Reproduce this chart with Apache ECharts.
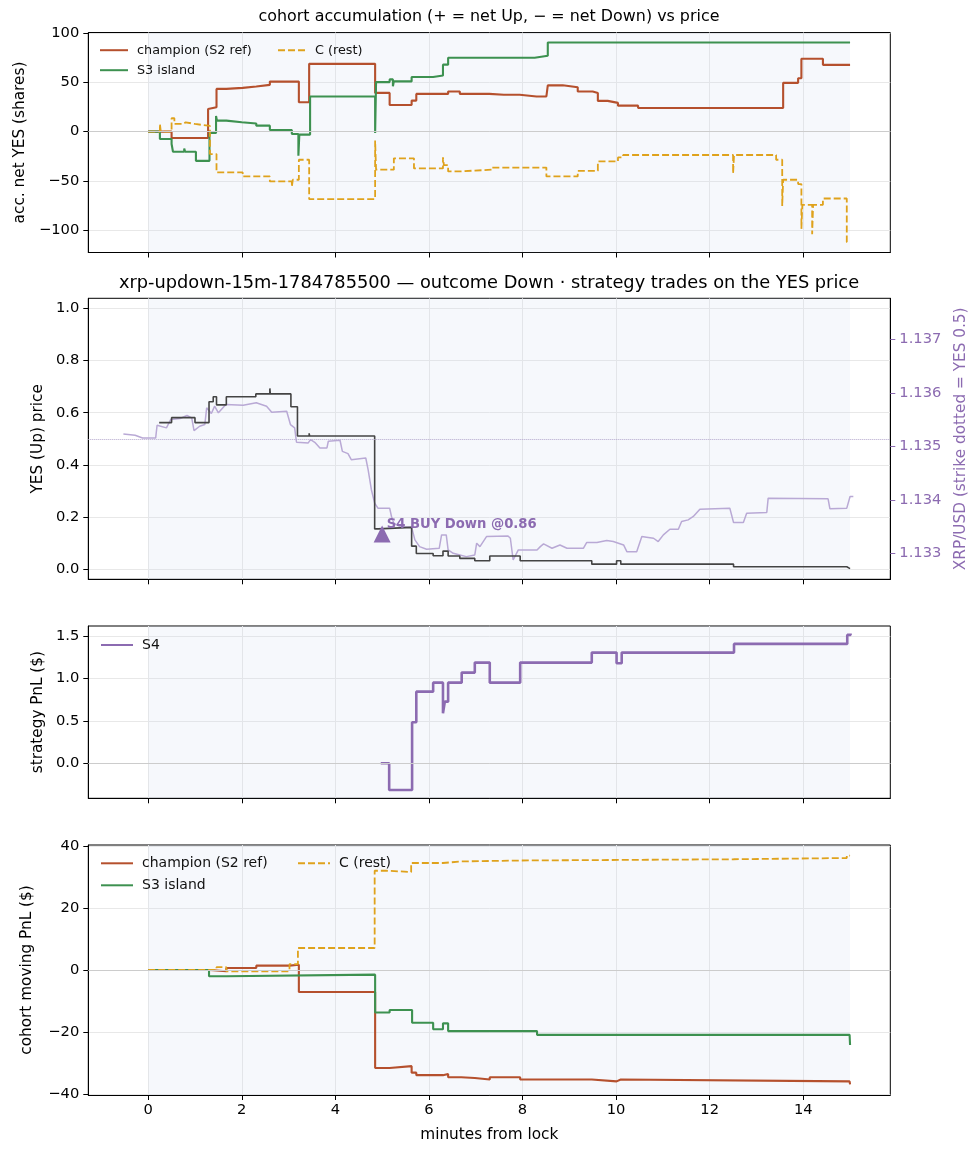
<!DOCTYPE html>
<html>
<head>
<meta charset="utf-8">
<script src="https://cdn.jsdelivr.net/npm/echarts@6/dist/echarts.min.js"></script>
<style>
html,body{margin:0;padding:0;background:#fff;}
#chart{width:978px;height:1156px;}
</style>
</head>
<body>
<div id="chart"></div>
<script>
// ---------- data (minutes from lock, value held until next point) ----------
const xTicks = [0, 2, 4, 6, 8, 10, 12, 14];
const accTicks = [-100, -50, 0, 50, 100];
const priceTicks = [0.0, 0.2, 0.4, 0.6, 0.8, 1.0];
const xrpTicks = [1.133, 1.134, 1.135, 1.136, 1.137];
const s4Ticks = [0.0, 0.5, 1.0, 1.5];
const pnlTicks = [-40, -20, 0, 20, 40];

const champAcc = [[0,0],[0.50,-6.4],[1.28,23],[1.32,24.7],[1.46,43.4],[1.67,44.4],[2.02,45.8],[2.31,47.5],[2.60,50.8],
  [3.22,29.8],[3.44,68.8],[4.85,39.3],[5.16,27.1],[5.63,31.5],[5.73,38.3],[6.09,36.5],[6.11,38.3],[6.41,40.7],[6.66,38.3],
  [7.29,37.4],[7.60,35.8],[7.62,37.4],[7.94,35.7],[8.30,34.5],[8.32,35.7],[8.51,36.7],[8.54,47],[8.86,45],[9.18,40.7],[9.50,39.3],
  [9.61,31.2],[9.82,29.2],[10.04,26.4],[10.47,24],[13.57,49.5],[13.89,54.2],[13.96,73.9],[14.42,67.8],[15.0,67.8]];
const s3Acc = [[0,0],[0.25,-7.5],[0.50,-12.5],[0.53,-20.4],[0.77,-17],[0.79,-20.4],[1.02,-29.6],[1.31,-1.4],[1.45,16],[1.47,11.2],
  [1.67,9.5],[2.0,8.2],[2.31,6.1],[2.60,1.7],[3.07,-2.4],[3.21,-24.5],[3.23,-3],[3.46,35.7],[4.85,-1.4],[4.87,50.3],[5.16,53],
  [5.23,46],[5.25,51],[5.63,55.4],[6.09,57],[6.30,68],[6.41,75],[8.26,77],[8.54,90.5],[15.0,90.5]];
const cAcc = [[0,0],[0.25,7.8],[0.27,0],[0.50,13.6],[0.56,7.8],[0.75,9.5],[0.80,7.8],[1.0,5.8],[1.32,-22.7],[1.46,-41.4],
  [2.02,-45.4],[2.60,-50.5],[3.07,-56],[3.09,-48.8],[3.22,-28.5],[3.44,-68.5],[4.85,-9],[4.87,-38.6],[5.25,-27.1],[5.68,-37.3],
  [6.30,-26],[6.32,-34],[6.41,-40.3],[6.66,-38.6],[7.34,-36.4],[8.51,-45.4],[9.18,-39.7],[9.61,-30.2],[10.04,-26.1],[10.15,-23.7],
  [12.50,-42.4],[12.52,-23.7],[13.42,-28.5],[13.55,-75.3],[13.57,-48.8],[13.89,-53.2],[13.96,-98.6],[13.98,-74.2],[14.19,-104],
  [14.21,-74.2],[14.42,-67.8],[14.93,-112],[14.95,-112]];

const yesPrice = [[0.235,0.562],[0.50,0.581],[1.0,0.562],[1.30,0.642],[1.39,0.661],[1.46,0.630],[1.67,0.661],[2.30,0.672],
  [2.60,0.693],[2.61,0.672],[3.05,0.623],[3.19,0.511],[3.44,0.521],[3.45,0.511],[4.84,0.155],[4.91,0.161],[5.63,0.089],
  [5.73,0.061],[6.09,0.052],[6.30,0.070],[6.41,0.051],[6.66,0.042],[6.98,0.033],[7.30,0.051],[7.95,0.033],[9.48,0.020],
  [10.01,0.033],[10.10,0.020],[12.51,0.010],[14.93,0.003],[15.0,0.003]];
const xrpPrice = [[-0.53,1.135231],[-0.28,1.135206],[-0.12,1.135156],[0.16,1.135156],[0.19,1.135394],[0.39,1.135344],
  [0.48,1.1355],[0.68,1.135519],[0.83,1.135575],[0.93,1.135531],[0.98,1.135294],[1.10,1.135375],[1.21,1.135406],[1.25,1.135719],
  [1.35,1.135613],[1.42,1.13575],[1.50,1.135625],[1.66,1.135781],[2.03,1.135769],[2.31,1.135813],[2.53,1.13575],[2.64,1.135638],
  [2.96,1.135656],[3.04,1.135406],[3.13,1.135344],[3.17,1.135075],[3.42,1.135063],[3.47,1.135125],[3.56,1.135075],[3.67,1.134969],
  [3.82,1.134969],[3.85,1.135094],[4.10,1.135113],[4.15,1.134906],[4.27,1.134863],[4.34,1.13475],[4.65,1.134781],[4.70,1.134563],
  [4.77,1.134188],[4.84,1.133938],[4.91,1.133844],[5.16,1.133844],[5.20,1.133688],[5.25,1.133563],[5.38,1.1335],[5.63,1.133488],
  [5.70,1.13325],[5.80,1.133125],[5.95,1.133075],[6.22,1.133094],[6.27,1.133344],[6.37,1.133344],[6.41,1.133063],[6.52,1.133],
  [6.66,1.132969],[6.80,1.132938],[6.98,1.132969],[7.02,1.133188],[7.09,1.133125],[7.23,1.133313],[7.69,1.133325],[7.74,1.133281],
  [7.80,1.132875],[7.84,1.132875],[7.91,1.133063],[8.31,1.133063],[8.38,1.133125],[8.45,1.133175],[8.63,1.133094],[8.80,1.133156],
  [8.95,1.133094],[9.30,1.133094],[9.37,1.1332],[9.59,1.1332],[9.80,1.133238],[9.94,1.133219],[10.16,1.133156],[10.23,1.133031],
  [10.44,1.133031],[10.55,1.133313],[10.65,1.1333],[10.80,1.133281],[10.90,1.133219],[11.01,1.133344],[11.15,1.13345],
  [11.33,1.13345],[11.40,1.133594],[11.54,1.133625],[11.65,1.133688],[11.79,1.133825],[12.43,1.133844],[12.51,1.133575],
  [12.72,1.133575],[12.79,1.13375],[13.22,1.133763],[13.25,1.134031],[14.53,1.134019],[14.57,1.133831],[14.93,1.133844],
  [15.00,1.134063],[15.07,1.134063]];
const s4Trade = [[5.0, 0.135]];
const strikeYes = 0.5;

const s4Pnl = [[4.97,0],[5.15,-0.314],[5.64,0.483],[5.73,0.844],[6.09,0.950],[6.30,0.589],[6.34,0.726],[6.41,0.950],
  [6.70,1.068],[6.98,1.186],[7.30,0.950],[7.95,1.186],[9.48,1.304],[10.01,1.178],[10.12,1.304],[12.52,1.406],[14.94,1.512],[15.01,1.53]];

const champPnl = [[0,0],[1.32,-0.4],[1.67,0.64],[2.31,1.4],[3.02,1.7],[3.22,-7.1],[3.44,-6.6],[3.45,-7.1],[4.85,-31.6],
  [5.16,-31.0],[5.63,-33.1],[5.73,-33.9],[6.30,-33.5],[6.41,-34.6],[6.69,-34.8],[6.98,-35.3],[7.30,-34.6],[7.95,-35.3],
  [9.48,-35.9],[10.01,-35.3],[10.10,-35.9],[14.99,-35.9],[15.0,-36.9]];
const s3Pnl = [[0,0],[1.30,-2.0],[1.67,-1.5],[4.85,-13.7],[5.16,-12.9],[5.64,-17.0],[6.09,-19.1],[6.30,-17.2],[6.41,-19.7],
  [8.31,-20.9],[14.99,-20.9],[15.0,-24.2]];
const cPnl = [[0,0],[1.46,0.9],[1.67,-0.4],[3.02,1.9],[3.20,7.1],[4.84,32.0],[5.10,31.6],[5.62,34.5],[6.30,35.0],[6.69,35.3],
  [7.95,35.7],[12.51,36.1],[14.93,36.9],[15.0,36.9]];

// ---------- styling ----------
const FONT = 'DejaVu Sans';
const RED = '#b5502d', GREEN = '#3d9150', GOLD = '#dfa21c', PURPLE = '#8c6bb1', XRPC = '#b9a9d5', DARK = '#444444';
const GRID_LEFT = 88.3, GRID_W = 802;
const XMIN = -1.28, XMAX = 15.86;
const TICK_FS = 14.7, NAME_FS = 15.3;
const minus = v => (v < 0 ? '\u2212' + String(Math.abs(v)) : String(v));

function xAxis(gi, showLabels) {
  return {
    type: 'value', gridIndex: gi, min: XMIN, max: XMAX,
    axisLine: { show: true, onZero: false, lineStyle: { color: '#000', width: 1 } },
    axisTick: { show: true, inside: false, length: 5, customValues: xTicks, lineStyle: { color: '#000' } },
    axisLabel: { show: showLabels, customValues: xTicks, margin: 8, color: '#000', fontSize: TICK_FS, fontFamily: FONT },
    splitLine: { show: true, lineStyle: { color: '#e8e8e8', width: 1 } },
    name: showLabels ? 'minutes from lock' : '', nameLocation: 'middle', nameGap: 33,
    nameTextStyle: { fontSize: NAME_FS, fontFamily: FONT, color: '#000' }
  };
}
function yAxis(gi, min, max, ticks, fmt, name, gap, opts) {
  opts = opts || {};
  const col = opts.color || '#000';
  return {
    type: 'value', gridIndex: gi, min: min, max: max, position: opts.position || 'left',
    axisLine: { show: true, onZero: false, lineStyle: { color: '#000', width: 1 } },
    axisTick: { show: true, inside: false, length: 5, customValues: ticks, lineStyle: { color: opts.tickColor || '#000' } },
    axisLabel: { show: true, customValues: ticks, margin: 9, color: col, fontSize: TICK_FS, fontFamily: FONT, formatter: fmt },
    splitLine: { show: opts.split !== false, lineStyle: { color: '#e8e8e8', width: 1 } },
    name: name, nameLocation: 'middle', nameGap: gap, nameRotate: 90,
    nameTextStyle: { fontSize: NAME_FS, fontFamily: FONT, color: col }
  };
}
const shade = { silent: true, itemStyle: { color: 'rgba(200,212,238,0.17)' }, data: [[{ xAxis: 0 }, { xAxis: 15 }]] };
function zeroLine(y, color, type, width) {
  return { silent: true, symbol: ['none', 'none'], label: { show: false },
    lineStyle: { color: color, type: type, width: width }, data: [{ yAxis: y }] };
}
function stepLine(name, data, xi, yi, color, width, dashed, extra) {
  return Object.assign({
    name: name, type: 'line', xAxisIndex: xi, yAxisIndex: yi, data: data, step: 'end',
    symbol: 'none', showSymbol: false, animation: false,
    lineStyle: { color: color, width: width, type: dashed ? [7, 3] : 'solid' },
    itemStyle: { color: color }
  }, extra || {});
}
function legend(name, left, top, fs, w) {
  return { show: true, selectedMode: false, left: left, top: top, padding: 0, data: [name],
    itemWidth: w, itemHeight: 14, itemStyle: { opacity: 0 },
    textStyle: { fontSize: fs, fontFamily: FONT, color: '#111', padding: [0, 0, 0, 4] } };
}

const option = {
  animation: false,
  backgroundColor: '#ffffff',
  textStyle: { fontFamily: FONT },
  title: [
    { text: 'cohort accumulation (+ = net Up, \u2212 = net Down) vs price', left: 'center', top: 4,
      textStyle: { fontSize: 15.9, fontWeight: 'normal', color: '#000', fontFamily: FONT } },
    { text: 'xrp-updown-15m-1784785500 \u2014 outcome Down \u00b7 strategy trades on the YES price', left: 'center', top: 269,
      textStyle: { fontSize: 17.8, fontWeight: 'normal', color: '#000', fontFamily: FONT } }
  ],
  legend: [
    legend('champion (S2 ref)', 99, 43.7, 12.8, 28),
    legend('S3 island', 99, 63.7, 12.8, 28),
    legend('C (rest)', 277, 43.7, 12.8, 28),
    legend('S4', 100, 638, 14, 32),
    legend('champion (S2 ref)', 100, 856.3, 14, 32),
    legend('S3 island', 100, 878.3, 14, 32),
    legend('C (rest)', 297, 856.3, 14, 32)
  ],
  grid: [
    { left: GRID_LEFT, width: GRID_W, top: 32.5, height: 220, show: true, borderColor: '#000', borderWidth: 1, backgroundColor: 'transparent', outerBoundsMode: 'none' },
    { left: GRID_LEFT, width: GRID_W, top: 298.3, height: 281, show: true, borderColor: '#000', borderWidth: 1, backgroundColor: 'transparent', outerBoundsMode: 'none' },
    { left: GRID_LEFT, width: GRID_W, top: 626, height: 172.3, show: true, borderColor: '#000', borderWidth: 1, backgroundColor: 'transparent', outerBoundsMode: 'none' },
    { left: GRID_LEFT, width: GRID_W, top: 845, height: 250, show: true, borderColor: '#000', borderWidth: 1, backgroundColor: 'transparent', outerBoundsMode: 'none' }
  ],
  xAxis: [xAxis(0, false), xAxis(1, false), xAxis(2, false), xAxis(3, true)],
  yAxis: [
    yAxis(0, -122.6, 100.6, accTicks, v => minus(v), 'acc. net YES (shares)', 61),
    yAxis(1, -0.038, 1.038, priceTicks, v => v.toFixed(1), 'YES (Up) price', 43),
    yAxis(1, 1.132514, 1.137766, xrpTicks, v => v.toFixed(3), 'XRP/USD (strike dotted = YES 0.5)', 63,
      { position: 'right', color: PURPLE, tickColor: PURPLE, split: false }),
    yAxis(2, -0.412, 1.617, s4Ticks, v => v.toFixed(1), 'strategy PnL ($)', 43),
    yAxis(3, -40.3, 40.3, pnlTicks, v => minus(v), 'cohort moving PnL ($)', 54)
  ],
  series: [
    stepLine('champion (S2 ref)', champAcc, 0, 0, RED, 2.1, false,
      { markArea: shade, markLine: zeroLine(0, '#cccccc', 'solid', 1) }),
    stepLine('S3 island', s3Acc, 0, 0, GREEN, 2.1, false),
    stepLine('C (rest)', cAcc, 0, 0, GOLD, 1.8, true),

    { name: 'XRP/USD', type: 'line', xAxisIndex: 1, yAxisIndex: 2, data: xrpPrice, symbol: 'none', showSymbol: false,
      lineStyle: { color: XRPC, width: 1.5 }, itemStyle: { color: XRPC },
      markArea: shade },
    stepLine('YES price', yesPrice, 1, 1, DARK, 1.6, false,
      { markLine: zeroLine(strikeYes, '#b3a6cc', 'dotted', 1) }),
    { name: 'S4 trade', type: 'scatter', xAxisIndex: 1, yAxisIndex: 1, data: s4Trade, symbol: 'triangle', symbolSize: 17,
      itemStyle: { color: PURPLE, opacity: 1 }, z: 5,
      label: { show: true, formatter: 'S4 BUY Down @0.86', position: [13, -1], align: 'left', verticalAlign: 'middle',
        color: PURPLE, fontWeight: 'bold', fontSize: 13.2, fontFamily: FONT } },

    stepLine('S4', s4Pnl, 2, 3, PURPLE, 2.6, false,
      { markArea: shade, markLine: zeroLine(0, '#cccccc', 'solid', 1) }),

    stepLine('champion (S2 ref)', champPnl, 3, 4, RED, 2.1, false,
      { markArea: shade, markLine: zeroLine(0, '#cccccc', 'solid', 1) }),
    stepLine('S3 island', s3Pnl, 3, 4, GREEN, 2.1, false),
    stepLine('C (rest)', cPnl, 3, 4, GOLD, 1.8, true)
  ]
};

const chart = echarts.init(document.getElementById('chart'), null, { renderer: 'canvas' });
chart.setOption(option);
</script>
</body>
</html>
